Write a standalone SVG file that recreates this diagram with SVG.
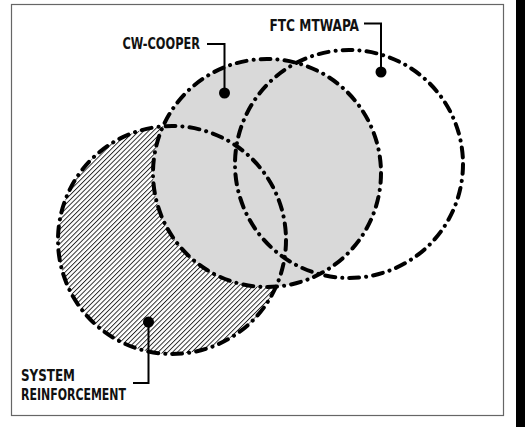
<svg xmlns="http://www.w3.org/2000/svg" width="525" height="427" viewBox="0 0 525 427">
  <style>
    .outline { fill: none; stroke: #000; stroke-width: 4; stroke-linecap: round; stroke-dasharray: 10 7 0.1 7; }
    .label { font-family: "DejaVu Sans", "Liberation Sans", sans-serif; font-stretch: condensed; font-weight: bold; font-size: 16px; fill: #111; }
    .leader { fill: none; stroke: #000; stroke-width: 2; }
    .dot { fill: #000; }
  </style>
  <defs>
    <pattern id="hatch" patternUnits="userSpaceOnUse" width="3.4" height="3.4" patternTransform="rotate(45)">
      <rect width="3.4" height="3.4" fill="#fff"/>
      <line x1="0.5" y1="0" x2="0.5" y2="3.4" stroke="#000" stroke-width="0.8"/>
    </pattern>
  </defs>
  <rect x="0" y="0" width="525" height="427" fill="#fff"/>
  <rect x="11.5" y="4.5" width="492" height="411" fill="none" stroke="#666" stroke-width="1.2"/>
  <rect x="516" y="0" width="9" height="427" fill="#000"/>

  <g id="node-system-reinforcement-fill">
    <circle cx="172" cy="240" r="114" fill="url(#hatch)"/>
  </g>
  <g id="node-cw-cooper-fill">
    <circle cx="267" cy="173" r="114" fill="#d9d9d9"/>
  </g>

  <g id="node-system-reinforcement">
    <circle class="outline" cx="172" cy="240" r="114"/>
    <circle class="dot" cx="148.5" cy="322" r="5.5"/>
    <text class="label" x="21" y="381" textLength="54" lengthAdjust="spacingAndGlyphs">SYSTEM</text>
    <text class="label" x="21" y="400" textLength="105" lengthAdjust="spacingAndGlyphs">REINFORCEMENT</text>
  </g>
  <g id="node-cw-cooper">
    <circle class="outline" cx="267" cy="173" r="114"/>
    <circle class="dot" cx="224.5" cy="93" r="5.5"/>
    <text class="label" x="122.5" y="49" textLength="77.5" lengthAdjust="spacingAndGlyphs">CW-COOPER</text>
  </g>
  <g id="node-ftc-mtwapa">
    <circle class="outline" cx="349" cy="164" r="114"/>
    <circle class="dot" cx="381" cy="72" r="5.5"/>
    <text class="label" x="269.5" y="30.5" textLength="89.5" lengthAdjust="spacingAndGlyphs">FTC MTWAPA</text>
  </g>

  <g id="connectors">
    <polyline class="leader" points="207,44 224.5,44 224.5,93"/>
    <polyline class="leader" points="364,23.5 381,23.5 381,72"/>
    <polyline class="leader" points="133,383 148.5,383 148.5,322"/>
  </g>
</svg>
